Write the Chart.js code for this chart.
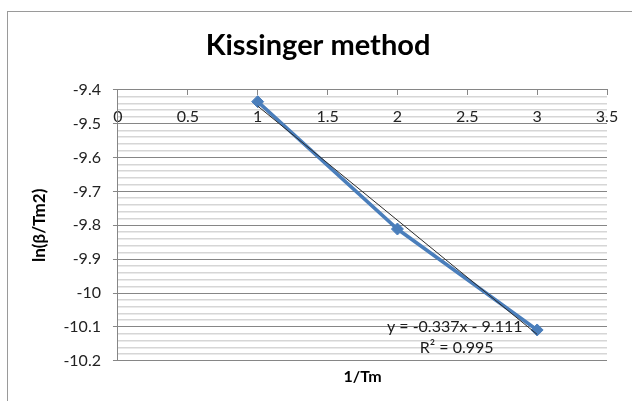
<!DOCTYPE html>
<html>
<head>
<meta charset="utf-8">
<script src="https://cdn.jsdelivr.net/npm/chart.js@4.4.1/dist/chart.umd.min.js"></script>
<style>
  html, body { margin: 0; padding: 0; background: #fff; overflow: hidden; }
  #frame {
    position: absolute; left: 7px; top: 11px;
    width: 700px; height: 500px;
    border: 1px solid #9a9a9a;
  }
  #wrap { position: absolute; left: 0; top: 0; width: 632px; height: 401px; }
</style>
</head>
<body>
<div id="frame"></div>
<div id="wrap"><canvas id="chart"></canvas></div>
<script>
const chartTitle = "Kissinger method";
const xTitle = "1/Tm";
const yTitle = "ln(β/Tm2)";

const xValues = [1, 2, 3];
const yValues = [-9.435, -9.811, -10.109];

const trendSlope = -0.337;
const trendIntercept = -9.111;
const trendRange = [1, 3];
const equationLines = ["y = -0.337x - 9.111", "R² = 0.995"];

const xTickValues = [0, 0.5, 1, 1.5, 2, 2.5, 3, 3.5];
const yMin = -10.2;
const yMax = -9.4;
const yMinorStep = 0.02;

const seriesColor = "#4a7ebb";
const majorGrid = "#868686";
const minorGrid = "#d6d6d6";
const textFont = "Lato, 'Open Sans', sans-serif";

function isMajor(v) {
  return Math.abs(v * 10 - Math.round(v * 10)) < 1e-6;
}

const equationLabel = {
  id: "equationLabel",
  afterDatasetsDraw(chart, args, opts) {
    const { ctx, scales } = chart;
    const x = scales.x.getPixelForValue(opts.x);
    const y = scales.y.getPixelForValue(opts.y);
    ctx.save();
    ctx.font = "16px " + textFont;
    ctx.fillStyle = "#1a1a1a";
    ctx.textAlign = "center";
    ctx.textBaseline = "middle";
    ctx.fillText(equationLines[0], x, y);
    ctx.fillText(equationLines[1], x + 2, y + 21);
    ctx.restore();
  },
};

new Chart(document.getElementById("chart"), {
  type: "scatter",
  data: {
    datasets: [
      {
        label: "Linear fit",
        data: trendRange.map((x) => ({ x, y: trendSlope * x + trendIntercept })),
        showLine: true,
        borderColor: "#2a2a2a",
        borderWidth: 1,
        pointRadius: 0,
        order: 0,
      },
      {
        label: "ln(β/Tm2)",
        data: xValues.map((x, i) => ({ x, y: yValues[i] })),
        showLine: true,
        borderColor: seriesColor,
        backgroundColor: seriesColor,
        borderWidth: 3.5,
        pointStyle: "rectRot",
        pointRadius: 6,
        pointBorderWidth: 1,
        order: 1,
      },
    ],
  },
  options: {
    responsive: true,
    maintainAspectRatio: false,
    animation: false,
    layout: { padding: { left: 29, right: 25, top: 0, bottom: 15 } },
    plugins: {
      legend: { display: false },
      tooltip: { enabled: false },
      title: {
        display: true,
        text: chartTitle,
        color: "#000",
        font: { family: textFont, size: 29, weight: "bold" },
        padding: { top: 28, bottom: 27 },
      },
      equationLabel: { x: 2.41, y: -10.099 },
    },
    scales: {
      x: {
        type: "linear",
        position: { y: yMax },
        min: 0,
        max: 3.5,
        afterBuildTicks: (axis) => {
          axis.ticks = xTickValues.map((v) => ({ value: v }));
        },
        ticks: {
          padding: 12,
          color: "#222",
          font: { family: textFont, size: 16 },
          maxRotation: 0,
          autoSkip: false,
          callback: (v) => String(v),
        },
        grid: {
          drawOnChartArea: false,
          drawTicks: true,
          tickLength: 5,
          tickColor: majorGrid,
        },
        border: { color: majorGrid, width: 1 },
      },
      xTitleAxis: {
        type: "linear",
        axis: "x",
        position: "bottom",
        min: 0,
        max: 3.5,
        ticks: { display: false },
        grid: { display: false, drawTicks: false },
        border: { display: false },
        title: {
          display: true,
          text: xTitle,
          color: "#000",
          font: { family: textFont, size: 16, weight: "bold" },
          padding: { top: 6, bottom: 0 },
        },
      },
      y: {
        type: "linear",
        min: yMin,
        max: yMax,
        ticks: {
          stepSize: yMinorStep,
          autoSkip: false,
          padding: 12,
          color: "#222",
          font: { family: textFont, size: 16 },
          callback: (v) => (isMajor(v) ? String(Math.round(v * 10) / 10) : ""),
        },
        grid: {
          color: (c) => (isMajor(c.tick.value) ? majorGrid : minorGrid),
          lineWidth: (c) => (isMajor(c.tick.value) ? 1 : 1.5),
          tickColor: (c) => (isMajor(c.tick.value) ? majorGrid : "rgba(0,0,0,0)"),
          tickLength: 5,
        },
        border: { color: majorGrid, width: 1 },
        title: {
          display: true,
          text: yTitle,
          color: "#000",
          font: { family: textFont, size: 17, weight: "bold" },
          padding: { top: 0, bottom: 2 },
        },
      },
    },
  },
  plugins: [equationLabel],
});
</script>
</body>
</html>
